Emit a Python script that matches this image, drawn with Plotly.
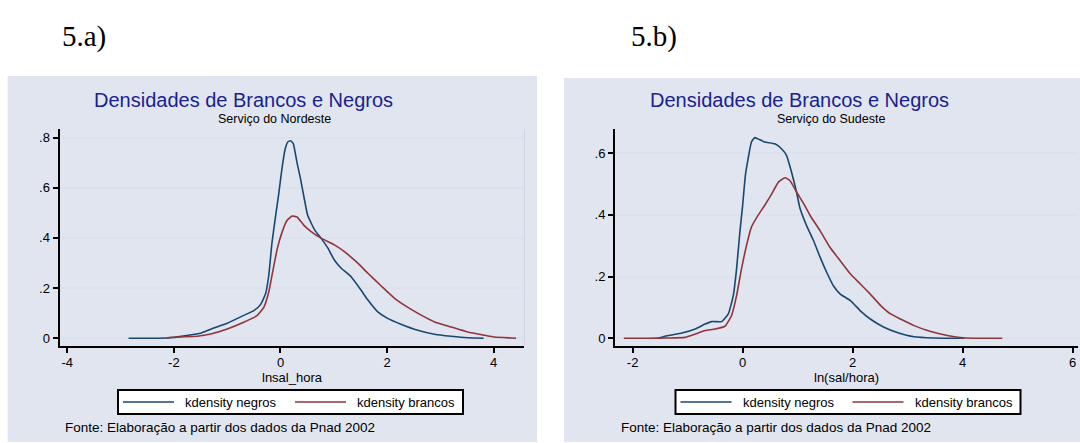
import plotly.graph_objects as go

W, H = 1080, 443

# ---------------- data ----------------
# 5.a) Serviço do Nordeste  (x = lnsal_hora)
ne_negros_x = [-2.85, -2.3, -2.0, -1.75, -1.5, -1.3, -1.0, -0.7, -0.5, -0.375, -0.28, -0.22,
               -0.16, -0.09, -0.03, 0.03, 0.09, 0.14, 0.19, 0.24, 0.31, 0.375, 0.44, 0.51,
               0.64, 0.76, 0.89, 1.01, 1.14, 1.325, 1.51, 1.64, 1.825, 2.01, 2.26, 2.575,
               2.89, 3.2, 3.51, 3.81]
ne_negros_y = [0.0, 0.0, 0.003, 0.011, 0.02, 0.037, 0.06, 0.09, 0.11, 0.134, 0.177, 0.25,
               0.38, 0.49, 0.58, 0.68, 0.756, 0.783, 0.787, 0.776, 0.70, 0.636, 0.563, 0.49,
               0.432, 0.399, 0.359, 0.312, 0.279, 0.245, 0.192, 0.152, 0.105, 0.079, 0.056, 0.032,
               0.016, 0.008, 0.002, 0.0]
ne_brancos_x = [-2.14, -2.06, -1.56, -1.31, -1.0, -0.69, -0.44, -0.31, -0.22, -0.16, -0.06,
                0.03, 0.125, 0.22, 0.31, 0.44, 0.575, 0.76, 1.01, 1.2, 1.45, 1.64, 1.89, 2.14,
                2.39, 2.64, 2.89, 3.2, 3.51, 3.825, 4.01, 4.325, 4.42]
ne_brancos_y = [0.0, 0.004, 0.008, 0.017, 0.037, 0.064, 0.09, 0.124, 0.184, 0.25, 0.357,
                0.423, 0.47, 0.487, 0.483, 0.45, 0.425, 0.399, 0.372, 0.345, 0.299, 0.259, 0.208, 0.159,
                0.123, 0.092, 0.065, 0.045, 0.025, 0.012, 0.005, 0.001, 0.0]

# 5.b) Serviço do Sudeste  (x = ln(sal/hora))
se_negros_x = [-1.55, -1.35, -1.105, -0.86, -0.68, -0.56, -0.38, -0.26, -0.17, -0.11, -0.05,
               0.0, 0.05, 0.1, 0.16, 0.22, 0.28, 0.40, 0.586, 0.707, 0.80, 0.89, 0.98, 1.04,
               1.165, 1.29, 1.41, 1.53, 1.65, 1.775, 1.96, 2.14, 2.32, 2.57, 2.81, 3.12, 3.48, 4.03]
se_negros_y = [0.0, 0.009, 0.017, 0.03, 0.046, 0.054, 0.054, 0.079, 0.138, 0.225, 0.344,
               0.43, 0.528, 0.582, 0.636, 0.65, 0.646, 0.636, 0.63, 0.614, 0.592, 0.538, 0.474, 0.423,
               0.364, 0.316, 0.262, 0.213, 0.17, 0.143, 0.122, 0.089, 0.0625, 0.036, 0.019, 0.005, 0.001, 0.0]
se_brancos_x = [-2.16, -1.71, -1.35, -1.05, -0.86, -0.68, -0.50, -0.32, -0.2, -0.11, -0.02,
                0.07, 0.16, 0.28, 0.40, 0.53, 0.65, 0.77, 0.86, 0.98, 1.13, 1.23, 1.41, 1.59,
                1.775, 1.96, 2.14, 2.32, 2.51, 2.69, 2.87, 3.12, 3.36, 3.6, 3.85, 4.06, 4.72]
se_brancos_y = [0.0, 0.0, 0.001, 0.003, 0.014, 0.025, 0.03, 0.039, 0.074, 0.138, 0.225,
                0.30, 0.36, 0.398, 0.43, 0.468, 0.506, 0.52, 0.511, 0.474, 0.43, 0.397, 0.348, 0.294,
                0.251, 0.208, 0.176, 0.143, 0.106, 0.079, 0.0625, 0.041, 0.025, 0.014, 0.005, 0.001, 0.0]

series_names = ["kdensity negros", "kdensity brancos"]
left_xticks = [-4, -2, 0, 2, 4]
right_xticks = [-2, 0, 2, 4, 6]
left_xtext = ["-4", "-2", "0", "2", "4"]
right_xtext = ["-2", "0", "2", "4", "6"]
left_yticks = [0, 0.2, 0.4, 0.6, 0.8]
right_yticks = [0, 0.2, 0.4, 0.6]
left_ytext = ["0", ".2", ".4", ".6", ".8"]
right_ytext = ["0", ".2", ".4", ".6"]

# ---------------- styling ----------------
BLUE = "#1a476f"
RED = "#90353b"
PANEL = "#e0e5ef"
GRID = "#dbe2ee"
TITLE_C = "#1a1f8f"
FONT = "Liberation Sans, Arial, sans-serif"
COLORS = [BLUE, RED]


def px(x):
    return x / W


def py(y):
    return 1 - y / H


fig = go.Figure()
line_kw = dict(width=1.6, shape="spline", smoothing=0.4)
panels = [
    ("x", "y", [(ne_negros_x, ne_negros_y), (ne_brancos_x, ne_brancos_y)]),
    ("x2", "y2", [(se_negros_x, se_negros_y), (se_brancos_x, se_brancos_y)]),
]
for xa, ya, series in panels:
    for i, (xs, ys) in enumerate(series):
        fig.add_trace(go.Scatter(x=xs, y=ys, mode="lines", name=series_names[i],
                                 line=dict(color=COLORS[i], **line_kw), xaxis=xa, yaxis=ya,
                                 showlegend=False))

ydom = [py(346), py(129)]
axis_common = dict(showline=True, linecolor="black", linewidth=2, ticks="outside", ticklen=5,
                   tickwidth=1.5, tickcolor="black", zeroline=False, ticklabeloverflow="allow",
                   tickfont=dict(family=FONT, size=13, color="black"))
xcommon = dict(axis_common, showgrid=False, ticklabelstandoff=-2)
ycommon = dict(axis_common, showgrid=True, gridcolor=GRID, gridwidth=1.5)

fig.update_layout(
    width=W, height=H, margin=dict(l=0, r=0, t=0, b=0),
    paper_bgcolor="white", plot_bgcolor="white",
    font=dict(family=FONT, size=13, color="black"),
    xaxis=dict(xcommon, domain=[px(59.5), px(524.4)], range=[-4.146, 4.576], anchor="y",
               tickvals=left_xticks, ticktext=left_xtext),
    yaxis=dict(ycommon, domain=ydom, range=[-0.031, 0.834], anchor="x",
               tickvals=left_yticks, ticktext=left_ytext),
    xaxis2=dict(xcommon, domain=[px(615), px(1078)], range=[-2.32, 6.097], anchor="y2",
                tickvals=right_xticks, ticktext=right_xtext),
    yaxis2=dict(ycommon, domain=ydom, range=[-0.025, 0.678], anchor="x2",
                tickvals=right_yticks, ticktext=right_ytext),
    showlegend=False,
)

shapes = [
    dict(type="rect", xref="paper", yref="paper", x0=px(7.6), x1=px(537), y0=py(442), y1=py(76),
         fillcolor=PANEL, line=dict(width=0), layer="below"),
    dict(type="rect", xref="paper", yref="paper", x0=px(564), x1=1.0, y0=py(442), y1=py(78),
         fillcolor=PANEL, line=dict(width=0), layer="below"),
    dict(type="line", xref="paper", yref="paper", x0=px(524.4), x1=px(524.4), y0=ydom[0], y1=ydom[1],
         line=dict(color="#cdd4e0", width=1)),
]

ann = []


def text(x, y, s, size, color="black", anchor="center", family=FONT):
    ann.append(dict(x=px(x), y=py(y), xref="paper", yref="paper", text=s, showarrow=False,
                    xanchor=anchor, yanchor="middle", font=dict(family=family, size=size, color=color)))


# legend boxes (one per panel), Stata-style
LEG_TOP, LEG_BOT = 390, 414
LEG_MID = (LEG_TOP + LEG_BOT) / 2
for off in (0, 557.5):
    shapes.append(dict(type="rect", xref="paper", yref="paper", x0=px(118 + off), x1=px(463 + off),
                       y0=py(LEG_BOT), y1=py(LEG_TOP), fillcolor="white",
                       line=dict(color="black", width=2)))
    for i, (lx, tx) in enumerate([(123, 183), (295, 355)]):
        shapes.append(dict(type="line", xref="paper", yref="paper", x0=px(lx + off), x1=px(lx + 51 + off),
                           y0=py(LEG_MID), y1=py(LEG_MID), line=dict(color=COLORS[i], width=1.6)))
        text(tx + off, LEG_MID + 0.5, series_names[i], 13, anchor="left")

fig.update_layout(shapes=shapes)

text(84, 36, "5.a)", 29, family="Liberation Serif, Times New Roman, serif")
text(654, 36, "5.b)", 29, family="Liberation Serif, Times New Roman, serif")
for off in (7.6, 564.3):
    text(off + 235.5, 100, "Densidades de Brancos e Negros", 20, color=TITLE_C)
text(274.5, 119, "Serviço do Nordeste", 12.5)
text(831.4, 119, "Serviço do Sudeste", 12.5)
text(292, 377, "lnsal_hora", 13)
text(846.5, 377, "ln(sal/hora)", 13)
text(62.7, 427, "Fonte: Elaboração a partir dos dados da Pnad 2002", 13.5, anchor="left")
text(619.4, 427, "Fonte: Elaboração a partir dos dados da Pnad 2002", 13.5, anchor="left")
fig.update_layout(annotations=ann)

fig.write_html("out.html", config={"displayModeBar": False},
               post_script="document.body.style.margin='0';document.body.style.overflow='hidden';")
